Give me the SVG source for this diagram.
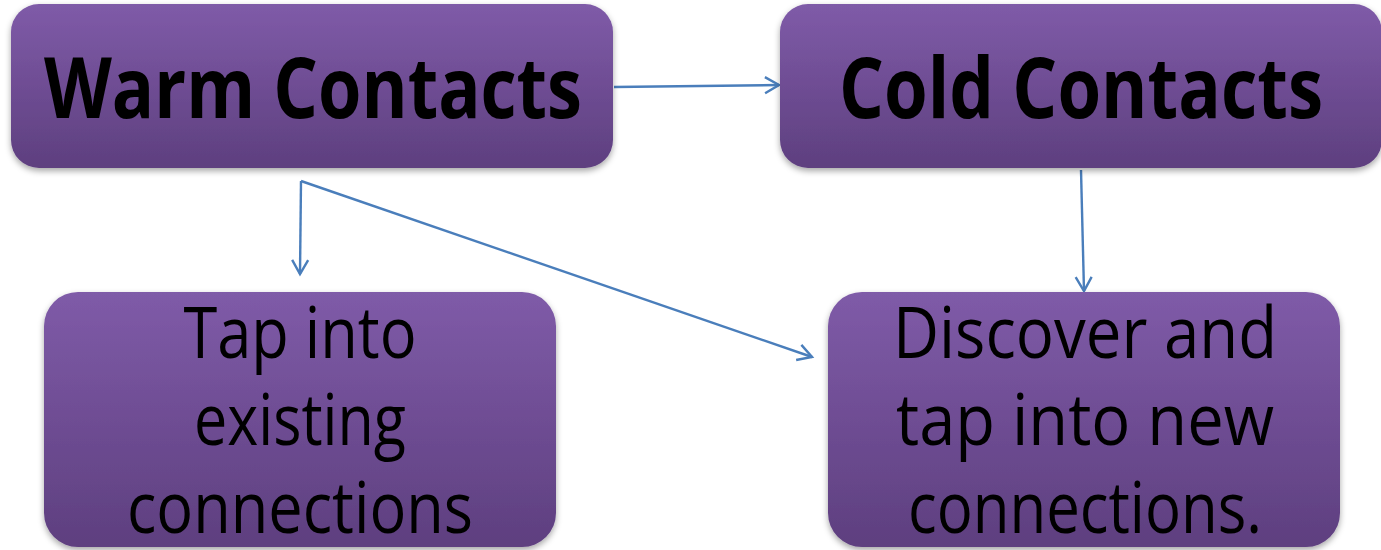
<svg xmlns="http://www.w3.org/2000/svg" width="1381" height="550" viewBox="0 0 1381 550">
<style>
.box{fill:url(#g);}
.t{font-family:"Open Sans","Liberation Sans",sans-serif;fill:#000;text-anchor:middle;}
.b{font-weight:bold;font-size:84px;}
.n{font-size:72px;}
.c{fill:none;stroke:#4a7ebb;stroke-width:2.4;marker-end:url(#a);}
</style>
<defs>
<linearGradient id="g" x1="0" y1="0" x2="0" y2="1">
<stop offset="0" stop-color="#7f5ba8"/>
<stop offset="1" stop-color="#5e3f7f"/>
</linearGradient>
<filter id="s" x="-5%" y="-5%" width="110%" height="120%">
<feDropShadow dx="0" dy="3" stdDeviation="3" flood-color="#000" flood-opacity="0.35"/>
</filter>
<marker id="a" markerWidth="18" markerHeight="20" refX="15" refY="10" orient="auto" markerUnits="userSpaceOnUse">
<path d="M1,2 L15,10 L1,18" fill="none" stroke="#4a7ebb" stroke-width="2.4"/>
</marker>
</defs>
<g id="connectors">
<line class="c" x1="614" y1="87" x2="779" y2="85"/>
<line class="c" x1="301" y1="181" x2="300" y2="274"/>
<line class="c" x1="301" y1="181" x2="812" y2="357"/>
<line class="c" x1="1081" y1="170" x2="1084" y2="291"/>
</g>
<g id="warm">
<rect class="box" filter="url(#s)" x="11" y="4" width="602" height="164" rx="28"/>
<text class="t b" x="313" y="118" textLength="538" lengthAdjust="spacingAndGlyphs">Warm Contacts</text>
</g>
<g id="cold">
<rect class="box" filter="url(#s)" x="780" y="4" width="602" height="164" rx="28"/>
<text class="t b" x="1081" y="118" textLength="484" lengthAdjust="spacingAndGlyphs">Cold Contacts</text>
</g>
<g id="existing">
<rect class="box" filter="url(#s)" x="44" y="292" width="512" height="255" rx="34"/>
<text class="t n" x="300" y="358" textLength="233" lengthAdjust="spacingAndGlyphs">Tap into</text>
<text class="t n" x="300" y="445" textLength="212" lengthAdjust="spacingAndGlyphs">existing</text>
<text class="t n" x="300" y="533" textLength="346" lengthAdjust="spacingAndGlyphs">connections</text>
</g>
<g id="new">
<rect class="box" filter="url(#s)" x="828" y="292" width="512" height="255" rx="34"/>
<text class="t n" x="1085" y="358" textLength="384" lengthAdjust="spacingAndGlyphs">Discover and</text>
<text class="t n" x="1085" y="445" textLength="378" lengthAdjust="spacingAndGlyphs">tap into new</text>
<text class="t n" x="1085" y="533" textLength="354" lengthAdjust="spacingAndGlyphs">connections.</text>
</g>
</svg>
